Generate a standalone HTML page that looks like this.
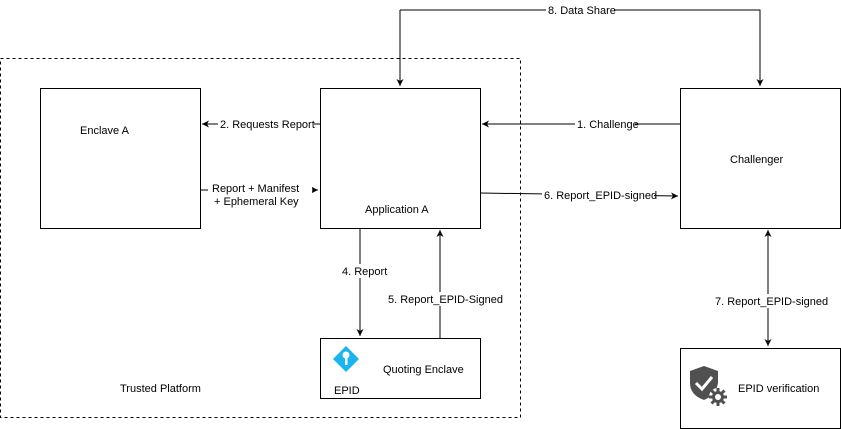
<!DOCTYPE html>
<html><head><style>body{margin:0;background:#fff}svg{display:block}text{font-family:"Liberation Sans",sans-serif;font-size:11px;fill:#000}</style></head><body>
<svg width="841" height="429" viewBox="0 0 841 429">
<defs><marker id="a" markerWidth="8" markerHeight="8" refX="7" refY="4" orient="auto" markerUnits="userSpaceOnUse"><path d="M0,0.5 L7,4 L0,7.5 L2,4 Z" fill="#000"/></marker></defs>
<rect x="0.5" y="58.5" width="520" height="359" fill="none" stroke="#000" stroke-dasharray="3,3"/>
<rect x="40.5" y="88.5" width="160" height="140" fill="#fff" stroke="#000"/>
<rect x="320.5" y="88.5" width="160" height="140" fill="#fff" stroke="#000"/>
<rect x="680.5" y="88.5" width="160" height="140" fill="#fff" stroke="#000"/>
<rect x="320.5" y="338.5" width="160" height="60" fill="#fff" stroke="#000"/>
<rect x="680.5" y="348.5" width="160" height="80" fill="#fff" stroke="#000"/>
<text x="80" y="134" font-size="12">Enclave A</text>
<text x="365" y="213" font-size="12">Application A</text>
<text x="730" y="163" font-size="12">Challenger</text>
<text x="383" y="373" font-size="12">Quoting Enclave</text>
<text x="334" y="394" font-size="12">EPID</text>
<text x="738" y="392" font-size="12">EPID verification</text>
<text x="120" y="392" font-size="12">Trusted Platform</text>
<path d="M346,346 L359,359 L346,372 L333,359 Z" fill="#1ab4f0"/>
<circle cx="346" cy="355" r="3.5" fill="#fff"/><rect x="345" y="356" width="2.5" height="9" fill="#fff"/>
<path d="M704,366 L718,371 L718,383 Q716,395 704,400 Q690,395 690,383 L690,371 Z" fill="#505050"/>
<path d="M696,383 L702,389 L712,377" stroke="#fff" stroke-width="3" fill="none"/>
<circle cx="718" cy="397" r="9" fill="#fff"/>
<g stroke="#505050" stroke-width="3"><path d="M718,388 L718,406 M709,397 L727,397 M711.5,390.5 L724.5,403.5 M724.5,390.5 L711.5,403.5"/></g>
<circle cx="718" cy="397" r="6" fill="#505050"/><circle cx="718" cy="397" r="3" fill="#fff"/>
<g stroke="#000" fill="none">
<path d="M400,10 L400,86" marker-end="url(#a)"/><path d="M400,10 L760,10 L760,86" marker-end="url(#a)"/>
<path d="M680,124 L482,124" marker-end="url(#a)"/>
<path d="M320,124 L202,124" marker-end="url(#a)"/>
<path d="M200,190 L318,190" marker-end="url(#a)"/>
<path d="M480,193 L678,196" marker-end="url(#a)"/>
<path d="M360,228 L360,336" marker-end="url(#a)"/>
<path d="M440,338 L440,230" marker-end="url(#a)"/>
<path d="M768,288 L768,230" marker-end="url(#a)"/><path d="M768,288 L768,346" marker-end="url(#a)"/>
</g>
<g>
<rect x="546" y="3" width="68" height="14" fill="#fff"/><text x="548" y="14">8. Data Share</text>
<rect x="575" y="117" width="60" height="14" fill="#fff"/><text x="577" y="128">1. Challenge</text>
<rect x="218" y="117" width="96" height="14" fill="#fff"/><text x="220" y="128">2. Requests Report</text>
<rect x="208" y="182" width="104" height="28" fill="#fff"/><text x="212" y="192">Report + Manifest</text><text x="214" y="205">+ Ephemeral Key</text>
<rect x="542" y="188" width="112" height="14" fill="#fff"/><text x="544" y="199">6. Report_EPID-signed</text>
<rect x="340" y="264" width="46" height="14" fill="#fff"/><text x="342" y="275">4. Report</text>
<rect x="386" y="292" width="110" height="14" fill="#fff"/><text x="388" y="303">5. Report_EPID-Signed</text>
<rect x="713" y="294" width="112" height="14" fill="#fff"/><text x="715" y="305">7. Report_EPID-signed</text>
</g>
</svg></body></html>
